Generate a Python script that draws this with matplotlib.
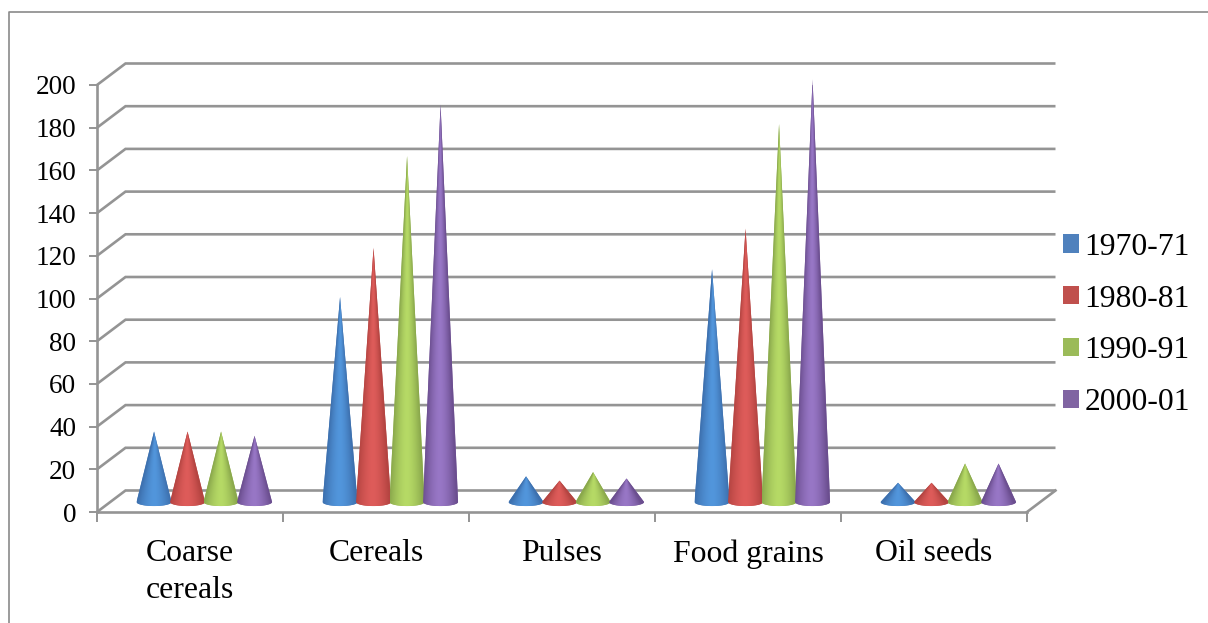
import numpy as np
import matplotlib
matplotlib.use("Agg")
import matplotlib.pyplot as plt
from matplotlib.patches import Patch, PathPatch
from matplotlib.path import Path
from matplotlib.lines import Line2D

categories = ["Coarse\ncereals", "Cereals", "Pulses", "Food grains", "Oil seeds"]
series_names = ["1970-71", "1980-81", "1990-91", "2000-01"]
values_1970 = [33, 96, 12, 109, 9]
values_1980 = [33, 119, 10, 128, 9]
values_1990 = [33, 162, 14, 177, 18]
values_2000 = [31, 186, 11, 198, 18]
all_values = [values_1970, values_1980, values_1990, values_2000]
y_ticks = list(range(0, 201, 20))

legend_colors = ["#4f81bd", "#c0504d", "#9bbb59", "#8064a2"]
edge_colors = ["#3d70ae", "#b44441", "#8aa84c", "#6b4e8f"]
light_colors = ["#5296dc", "#de5c5a", "#b6da66", "#9877c6"]
grid_color = "#949494"

W, H = 1208, 623
plt.rcParams["font.family"] = ["Liberation Serif", "DejaVu Serif"]
fig = plt.figure(figsize=(W / 100, H / 100), dpi=100, facecolor="white")
ax = fig.add_axes([97 / W, 1 - 512 / H, 930 / W, 427 / H])
ax.patch.set_visible(False)
ax.set_xlim(0, 5)
ax.set_ylim(0, 200)

depth_x, depth_y = 28.5 / 186, 21.5 / 2.135
lw = 1.9

# Outer chart-area frame (runs off the right and bottom of the image)
fig.add_artist(Line2D([9 / W, 9 / W, 1], [0, 1 - 11.5 / H, 1 - 11.5 / H],
                      color="#8a8a8a", lw=1.2, transform=fig.transFigure))

# Walls / floor grid
for v in y_ticks:
    ax.plot([0, depth_x, 5 + depth_x], [v, v + depth_y, v + depth_y],
            color=grid_color, lw=lw, clip_on=False, zorder=1,
            solid_capstyle="butt", solid_joinstyle="miter")
ax.plot([5, 5 + depth_x], [0, depth_y], color=grid_color, lw=lw, clip_on=False, zorder=1)

# Cones
hex2rgb = lambda c: np.array(matplotlib.colors.to_rgb(c))
slot = 33.5 / 186
half_w = 17.5 / 186
base_h = 1.9
off_x, off_y = 14.3 / 186, 10 / 2.135
nx, ny = 60, 200
for s, vals in enumerate(all_values):
    edge, light = hex2rgb(edge_colors[s]), hex2rgb(light_colors[s])
    for c, v in enumerate(vals):
        cx = c + 0.5 + off_x + (s - 1.5) * slot
        top = v + off_y
        # conical shading that narrows towards the apex
        xs = np.linspace(-1, 1, nx)
        ts = np.linspace(0, 1, ny)
        XX, TT = np.meshgrid(xs, ts)
        U = np.clip(np.abs((XX + 0.05 * (1 - TT)) / np.maximum(1 - TT, 0.02)), 0, 1)
        mix = (1 - U ** 1.6)[..., None]
        img = edge + (light - edge) * mix
        im = ax.imshow(img, origin="lower", aspect="auto", interpolation="bilinear",
                       extent=(cx - half_w, cx + half_w, off_y - base_h, top),
                       zorder=3 + s * 0.01 + c)
        # outline: apex, then down to a rounded elliptical base
        th = np.linspace(0, np.pi, 30)
        bx = cx + half_w * np.cos(th)
        by = off_y - base_h * np.sin(th)
        px = np.r_[cx, bx, cx]
        py = np.r_[top, by, top]
        cone = PathPatch(Path(np.c_[px, py]), facecolor=legend_colors[s], edgecolor="none",
                         zorder=2.9 + s * 0.01 + c, clip_on=False)
        ax.add_patch(cone)
        im.set_clip_path(cone)
ax.set_xlim(0, 5)
ax.set_ylim(0, 200)

# Axes
for side in ("top", "right"):
    ax.spines[side].set_visible(False)
for side in ("left", "bottom"):
    ax.spines[side].set_color(grid_color)
    ax.spines[side].set_linewidth(lw)
ax.set_yticks(y_ticks)
ax.set_yticklabels([str(v) for v in y_ticks], fontsize=19.6, color="black")
ax.tick_params(axis="y", length=5.8, width=1.4, color=grid_color, pad=9.2)
ax.set_xticks(range(6))
ax.set_xticklabels([""] * 6)
ax.tick_params(axis="x", which="major", length=7.2, width=1.4, color=grid_color)
ax.set_xticks(np.arange(5) + 0.5, minor=True)
ax.set_xticklabels(categories, minor=True, fontsize=22.9, color="black", linespacing=1.34)
ax.tick_params(axis="x", which="minor", length=0, pad=19.5)

# Legend
handles = [Patch(facecolor=c, edgecolor="none", label=n) for c, n in zip(legend_colors, series_names)]
ax.legend(handles=handles, loc="center left", bbox_to_anchor=(1063 / W, 1 - 325 / H),
          bbox_transform=fig.transFigure, frameon=False, fontsize=22.8,
          handlelength=0.505, handleheight=0.505, handletextpad=0.18, labelspacing=0.72,
          borderpad=0, borderaxespad=0)

fig.savefig("out.png", dpi=100, facecolor="white")
